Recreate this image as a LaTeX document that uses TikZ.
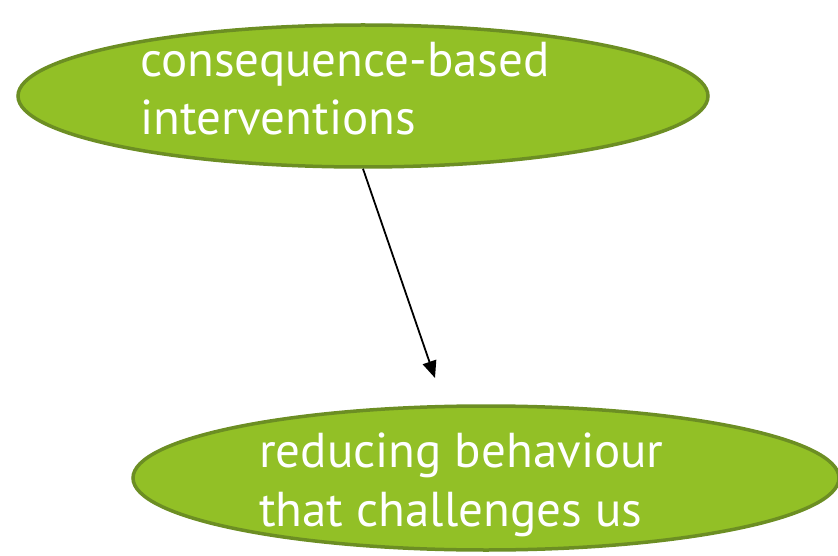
\documentclass[tikz,border=0pt]{standalone}
\usepackage{fontspec}
\setmainfont{PT Sans}
\usetikzlibrary{shapes.geometric,arrows.meta}
\definecolor{leaf}{RGB}{146,192,38}
\definecolor{leafedge}{RGB}{108,142,35}
\tikzset{
  blob/.style={ellipse, draw=leafedge, fill=leaf, line width=3.5pt, inner sep=0pt},
  label/.style={anchor=base west, inner sep=0pt, text=white, font=\fontsize{49}{58}\selectfont, align=left},
  link/.style={line width=1.8pt, -{Triangle[length=17pt,width=14pt]}}
}
\begin{document}
\begin{tikzpicture}[x=1pt,y=-1pt]
\useasboundingbox (0,0) rectangle (838,556);
\node[blob, minimum width=690pt, minimum height=142pt] (top) at (363,96) {};
\node[blob, minimum width=706pt, minimum height=144pt] (bot) at (486,478) {};
\node[label] (t1) at (140,77) {consequence-based};
\node[label] (t2) at (140,135) {interventions};
\node[label] (b1) at (259,467) {reducing behaviour};
\node[label] (b2) at (259,526) {that challenges us};
\coordinate (tip) at (435,378);
\draw[link] (top.south) -- (tip);
\end{tikzpicture}
\end{document}
